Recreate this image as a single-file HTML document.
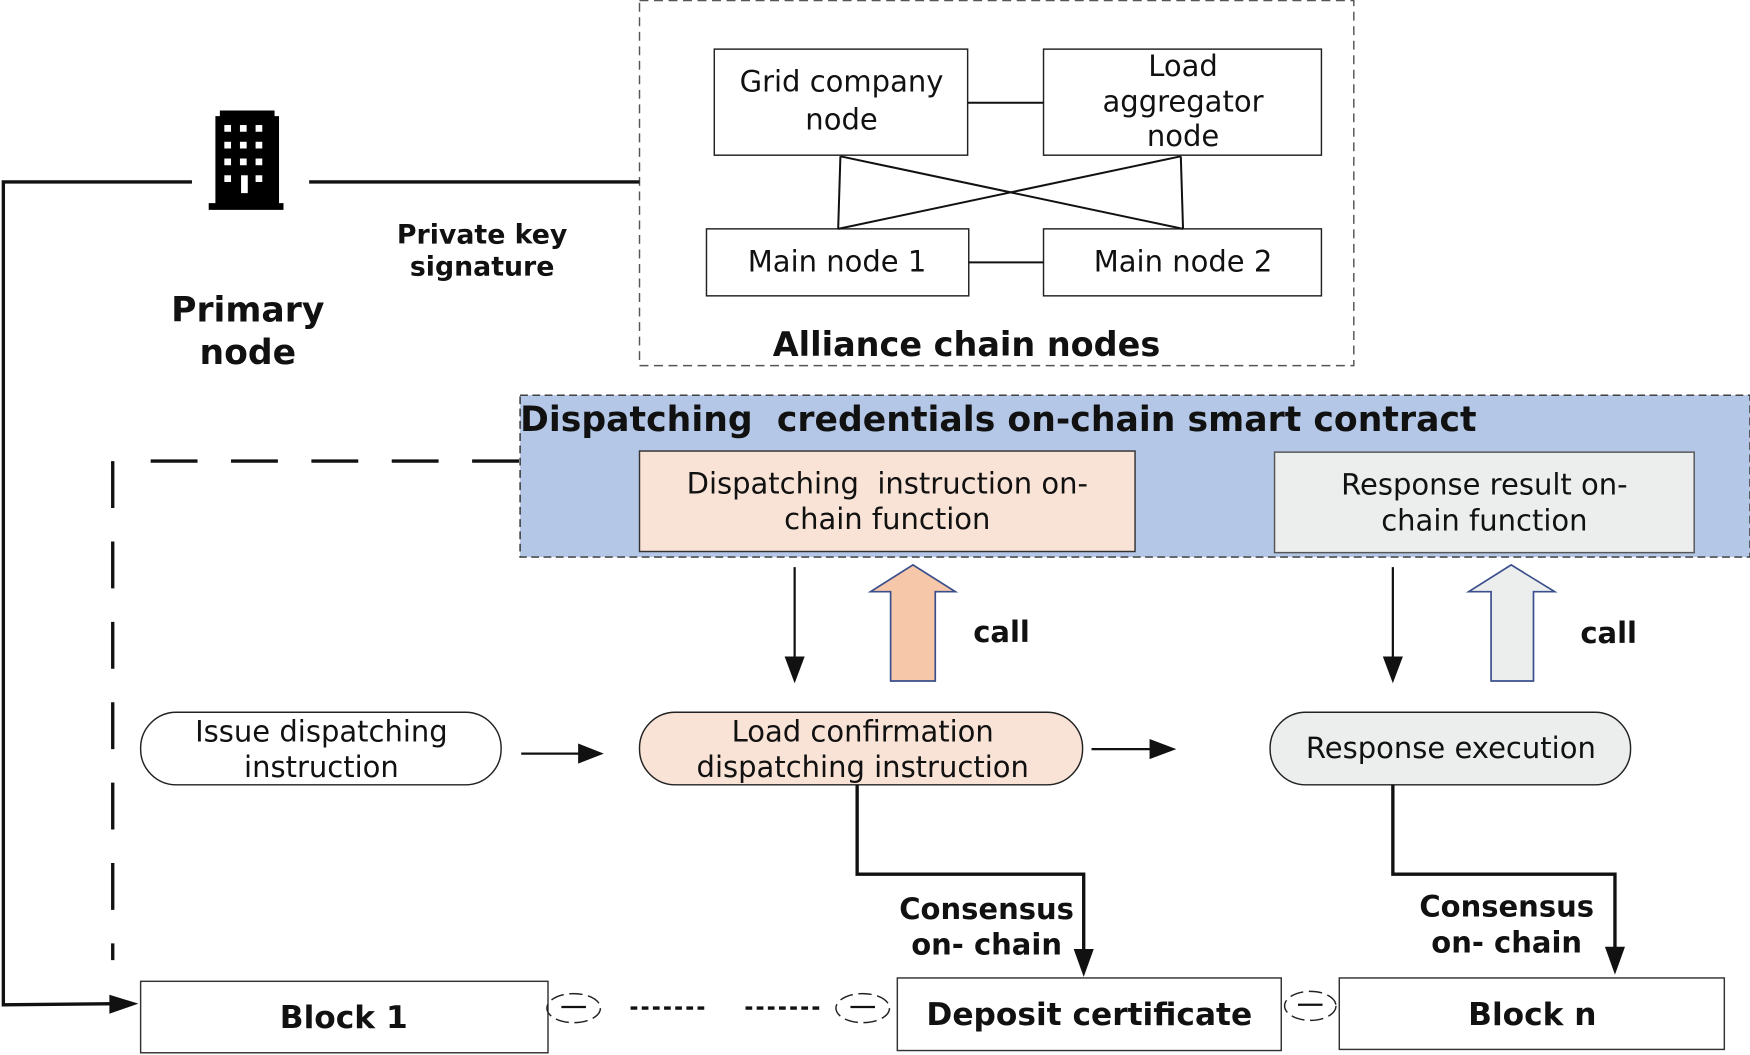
<!DOCTYPE html>
<html><head><meta charset="utf-8"><style>html,body{margin:0;padding:0;background:#fff}svg{display:block}text{font-family:"DejaVu Sans","Liberation Sans",sans-serif;fill:#111}</style></head>
<body>
<svg width="1750" height="1055" viewBox="0 0 1568 945" preserveAspectRatio="none" xmlns="http://www.w3.org/2000/svg">
<!-- alliance box -->
<rect x="573" y="0.5" width="640" height="327" fill="none" stroke="#555" stroke-width="1.3" stroke-dasharray="8,5"/>
<g fill="#fff" stroke="#222" stroke-width="1.3">
<rect x="640" y="44" width="227" height="95"/>
<rect x="935" y="44" width="249" height="95"/>
<rect x="633" y="205" width="235" height="60"/>
<rect x="935" y="205" width="249" height="60"/>
</g>
<g stroke="#111" stroke-width="1.8" fill="none">
<line x1="867" y1="92" x2="935" y2="92"/>
<line x1="868" y1="235" x2="935" y2="235"/>
<line x1="753" y1="140" x2="751" y2="205"/>
<line x1="1058" y1="140" x2="1060" y2="205"/>
<line x1="753" y1="140" x2="1060" y2="205"/>
<line x1="1058" y1="140" x2="751" y2="205"/>
</g>
<g font-size="26" text-anchor="middle">
<text x="754" y="82">Grid company</text><text x="754" y="116">node</text>
<text x="1060" y="68">Load</text><text x="1060" y="100">aggregator</text><text x="1060" y="131">node</text>
<text x="750" y="243">Main node 1</text><text x="1060" y="243">Main node 2</text>
</g>
<text x="866" y="319" font-size="30" font-weight="bold" text-anchor="middle">Alliance chain nodes</text>
<!-- building -->
<g fill="#000">
<path d="M193,104 L197,104 L197,99 L246,99 L246,104 L250,104 L250,182 L254,182 L254,188 L187,188 L187,182 L193,182 z"/>
</g>
<g fill="#fff">
<rect x="201" y="112" width="6" height="6"/><rect x="215" y="112" width="6" height="6"/><rect x="229" y="112" width="6" height="6"/>
<rect x="201" y="127" width="6" height="6"/><rect x="215" y="127" width="6" height="6"/><rect x="229" y="127" width="6" height="6"/>
<rect x="201" y="142" width="6" height="6"/><rect x="215" y="142" width="6" height="6"/><rect x="229" y="142" width="6" height="6"/>
<rect x="201" y="157" width="6" height="6"/><rect x="216" y="157" width="6" height="16"/><rect x="229" y="157" width="6" height="6"/>
</g>
<g stroke="#111" stroke-width="3" fill="none">
<line x1="277" y1="163" x2="573" y2="163"/>
<polyline points="172,163 3,163 3,900 105,899"/>
</g>
<path d="M98,891 L124,899 L98,908 z" fill="#111"/>
<g font-size="24" font-weight="bold" text-anchor="middle">
<text x="432" y="218">Private key</text><text x="432" y="247">signature</text>
</g>
<g font-size="31" font-weight="bold" text-anchor="middle">
<text x="222" y="288">Primary</text><text x="222" y="326">node</text>
</g>
<!-- blue contract box -->
<rect x="466" y="354" width="1102" height="145" fill="#b4c7e7" stroke="#333" stroke-width="1.3" stroke-dasharray="7,4"/>
<text x="466" y="386" font-size="31" font-weight="bold" textLength="857" lengthAdjust="spacing" xml:space="preserve">Dispatching  credentials on-chain smart contract</text>
<rect x="573" y="404" width="444" height="90" fill="#f9e3d6" stroke="#333" stroke-width="1.3"/>
<rect x="1142" y="405" width="376" height="90" fill="#eceeee" stroke="#555" stroke-width="1.3"/>
<g font-size="26" text-anchor="middle">
<text x="795" y="442" xml:space="preserve">Dispatching  instruction on-</text><text x="795" y="474">chain function</text>
<text x="1330" y="443">Response result on-</text><text x="1330" y="475">chain function</text>
</g>
<!-- long dashed -->
<g stroke="#111" stroke-width="3" fill="none" stroke-dasharray="42,30">
<line x1="135" y1="413" x2="466" y2="413"/>
<line x1="101" y1="413" x2="101" y2="860"/>
</g>
<!-- down arrows -->
<g stroke="#111" stroke-width="2" fill="none">
<line x1="712" y1="508" x2="712" y2="592"/>
<line x1="1248" y1="508" x2="1248" y2="592"/>
</g>
<path d="M703,588 L712,612 L721,588 z" fill="#111"/>
<path d="M1239,588 L1248,612 L1257,588 z" fill="#111"/>
<!-- up block arrows -->
<path d="M798,610 L798,530 L780,530 L818,506 L856,530 L838,530 L838,610 z" fill="#f6c7a8" stroke="#3a4f8c" stroke-width="1.5"/>
<path d="M1336,610 L1336,530 L1316,530 L1354,506 L1393,530 L1374,530 L1374,610 z" fill="#eceeee" stroke="#3a4f8c" stroke-width="1.5"/>
<g font-size="26" font-weight="bold">
<text x="872" y="575">call</text><text x="1416" y="576">call</text>
</g>
<!-- pills -->
<rect x="126" y="638" width="323" height="65" rx="32" fill="#fff" stroke="#222" stroke-width="1.3"/>
<rect x="573" y="638" width="397" height="65" rx="32" fill="#f9e3d6" stroke="#222" stroke-width="1.3"/>
<rect x="1138" y="638" width="323" height="65" rx="32" fill="#eceeee" stroke="#222" stroke-width="1.3"/>
<g font-size="26" text-anchor="middle">
<text x="288" y="664">Issue dispatching</text><text x="288" y="696">instruction</text>
<text x="773" y="664">Load confirmation</text><text x="773" y="696">dispatching instruction</text>
<text x="1300" y="679">Response execution</text>
</g>
<g stroke="#111" stroke-width="2" fill="none">
<line x1="467" y1="675" x2="522" y2="675"/>
<line x1="978" y1="671" x2="1033" y2="671"/>
</g>
<path d="M518,666 L541,675 L518,684 z" fill="#111"/>
<path d="M1030,662 L1054,671 L1030,680 z" fill="#111"/>
<!-- consensus lines -->
<g stroke="#111" stroke-width="3" fill="none">
<polyline points="768,703 768,783 971,783 971,855"/>
<polyline points="1248,703 1248,783 1447,783 1447,852"/>
</g>
<path d="M962,850 L971,875 L980,850 z" fill="#111"/>
<path d="M1438,848 L1447,873 L1456,848 z" fill="#111"/>
<g font-size="26" font-weight="bold" text-anchor="middle">
<text x="884" y="823">Consensus</text><text x="884" y="855">on- chain</text>
<text x="1350" y="821">Consensus</text><text x="1350" y="853">on- chain</text>
</g>
<!-- blocks -->
<g fill="#fff" stroke="#333" stroke-width="1.3">
<rect x="126" y="879" width="365" height="64"/>
<rect x="804" y="876" width="344" height="65"/>
<rect x="1200" y="876" width="345" height="64"/>
</g>
<g font-size="28" font-weight="bold" text-anchor="middle">
<text x="308" y="921">Block 1</text>
<text x="976" y="918">Deposit certificate</text>
<text x="1373" y="918">Block n</text>
</g>
<g fill="none" stroke="#222" stroke-width="1.3" stroke-dasharray="12,5">
<ellipse cx="514" cy="903" rx="24" ry="13"/>
<ellipse cx="773" cy="903" rx="24" ry="13"/>
<ellipse cx="1174" cy="901" rx="23" ry="13"/>
</g>
<g stroke="#111" stroke-width="2">
<line x1="503" y1="902" x2="525" y2="902"/>
<line x1="762" y1="902" x2="784" y2="902"/>
<line x1="1163" y1="900" x2="1185" y2="900"/>
</g>
<g stroke="#111" stroke-width="3" stroke-dasharray="6,4">
<line x1="565" y1="903" x2="633" y2="903"/>
<line x1="668" y1="903" x2="736" y2="903"/>
</g>
</svg>
</body></html>
